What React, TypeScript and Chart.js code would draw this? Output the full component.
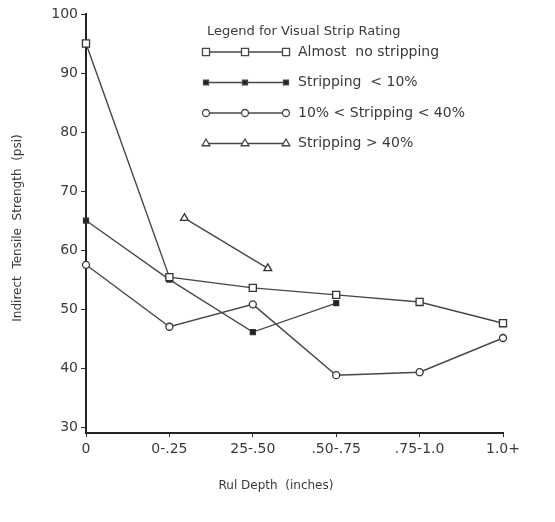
import React, { useEffect, useRef } from "react";
import { Chart, registerables } from "chart.js";

Chart.register(...registerables);

const categories = ["0", "0-.25", "25-.50", ".50-.75", ".75-1.0", "1.0+"];
const yTickValues = [30, 40, 50, 60, 70, 80, 90, 100];

const seriesNames = [
  "Almost  no stripping",
  "Stripping  < 10%",
  "10% < Stripping < 40%",
  "Stripping > 40%",
];
const almostNoneX = [0, 1, 2, 3, 4, 5];
const almostNoneY = [95, 55.4, 53.6, 52.4, 51.2, 47.6];
const under10X = [0, 1, 2, 3];
const under10Y = [65, 55, 46.1, 51];
const between10and40X = [0, 1, 2, 3, 4, 5];
const between10and40Y = [57.5, 47, 50.8, 38.8, 39.3, 45.1];
const over40X = [1.18, 2.18];
const over40Y = [65.4, 56.9];

const INK = "#3a3a3a";
const FONT = '"DejaVu Sans", sans-serif';

function toPoints(xs: number[], ys: number[]) {
  return xs.map((x, i) => ({ x, y: ys[i] }));
}

function drawMarker(
  ctx: CanvasRenderingContext2D,
  style: string,
  x: number,
  y: number,
  r: number,
  fill: string
) {
  ctx.beginPath();
  if (style === "rect") {
    const s = r * Math.SQRT1_2;
    ctx.rect(x - s, y - s, 2 * s, 2 * s);
  } else if (style === "triangle") {
    ctx.moveTo(x, y - r);
    ctx.lineTo(x + r * 0.866, y + r * 0.5);
    ctx.lineTo(x - r * 0.866, y + r * 0.5);
    ctx.closePath();
  } else {
    ctx.arc(x, y, r, 0, Math.PI * 2);
  }
  ctx.fillStyle = fill;
  ctx.fill();
  ctx.stroke();
}

const annotationPlugin = {
  id: "customLegendAndTitles",
  afterDraw(chart: any) {
    const ctx: CanvasRenderingContext2D = chart.ctx;
    ctx.save();
    ctx.fillStyle = INK;
    ctx.textBaseline = "middle";
    ctx.textAlign = "left";
    ctx.font = `13px ${FONT}`;
    ctx.fillText("Legend for Visual Strip Rating", 207, 32);
    ctx.font = `14px ${FONT}`;
    chart.data.datasets.forEach((ds: any, i: number) => {
      const y = 52 + i * 30.5;
      ctx.strokeStyle = ds.borderColor;
      ctx.lineWidth = 1.3;
      ctx.beginPath();
      ctx.moveTo(206, y);
      ctx.lineTo(286, y);
      ctx.stroke();
      [206, 245, 286].forEach((x) =>
        drawMarker(ctx, ds.pointStyle, x, y, ds.pointRadius, ds.pointBackgroundColor)
      );
      ctx.fillStyle = INK;
      ctx.fillText(ds.label, 298, y);
    });
    ctx.font = `12px ${FONT}`;
    ctx.textAlign = "center";
    ctx.fillText("Rul Depth  (inches)", 276, 486);
    ctx.translate(18, 228);
    ctx.rotate(-Math.PI / 2);
    ctx.fillText("Indirect  Tensile  Strength  (psi)", 0, 0);
    ctx.restore();
  },
};

export default function App() {
  const canvasRef = useRef<HTMLCanvasElement | null>(null);

  useEffect(() => {
    if (!canvasRef.current) return;
    const common = {
      borderColor: "#474747",
      borderWidth: 1.4,
      pointBorderColor: "#333",
      pointBorderWidth: 1.3,
      clip: false as any,
      fill: false,
      tension: 0,
    };
    const chart = new Chart(canvasRef.current, {
      type: "line",
      data: {
        datasets: [
          {
            ...common,
            label: seriesNames[0],
            data: toPoints(almostNoneX, almostNoneY),
            pointStyle: "rect",
            pointRadius: 5,
            pointBackgroundColor: "#ffffff",
          },
          {
            ...common,
            label: seriesNames[1],
            data: toPoints(under10X, under10Y),
            pointStyle: "rect",
            pointRadius: 3.5,
            pointBackgroundColor: "#222222",
          },
          {
            ...common,
            label: seriesNames[2],
            data: toPoints(between10and40X, between10and40Y),
            pointStyle: "circle",
            pointRadius: 3.5,
            pointBackgroundColor: "#ffffff",
          },
          {
            ...common,
            label: seriesNames[3],
            data: toPoints(over40X, over40Y),
            pointStyle: "triangle",
            pointRadius: 4.5,
            pointBackgroundColor: "#ffffff",
          },
        ],
      },
      options: {
        animation: false,
        responsive: false,
        maintainAspectRatio: false,
        layout: { padding: { top: 14, right: 52, left: 0, bottom: 0 } },
        plugins: {
          legend: { display: false },
          tooltip: { enabled: false },
        },
        scales: {
          x: {
            type: "linear",
            min: 0,
            max: 5,
            afterBuildTicks: (s: any) => {
              s.ticks = categories.map((_, i) => ({ value: i }));
            },
            afterFit: (s: any) => {
              s.height = 89;
            },
            ticks: {
              callback: (v: any) => categories[v as number],
              font: { family: FONT, size: 14 },
              color: INK,
              padding: 4,
              maxRotation: 0,
              autoSkip: false,
            },
            grid: {
              drawOnChartArea: false,
              drawTicks: true,
              tickLength: 4,
              color: "#333",
            },
            border: { color: "#222", width: 2 },
          },
          y: {
            type: "linear",
            min: 29,
            max: 100,
            afterBuildTicks: (s: any) => {
              s.ticks = yTickValues.map((v) => ({ value: v }));
            },
            afterFit: (s: any) => {
              s.width = 86;
            },
            ticks: {
              font: { family: FONT, size: 14 },
              color: INK,
              padding: 3,
            },
            grid: {
              drawOnChartArea: false,
              drawTicks: true,
              tickLength: 5,
              color: "#333",
            },
            border: { color: "#222", width: 2 },
          },
        },
      },
      plugins: [annotationPlugin],
    });
    return () => chart.destroy();
  }, []);

  return (
    <div style={{ position: "fixed", left: 0, top: 0, width: 555, height: 522, background: "#fff" }}>
      <canvas ref={canvasRef} width={555} height={522} style={{ width: 555, height: 522 }} />
    </div>
  );
}
